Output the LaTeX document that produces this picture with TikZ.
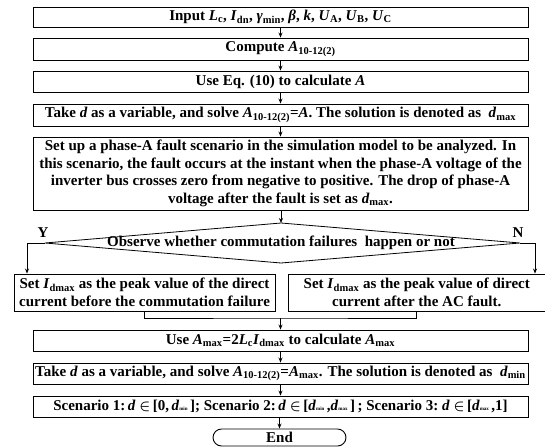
\documentclass[tikz,border=0pt]{standalone}
\usepackage{fontspec}
\setmainfont{Liberation Serif}
\usetikzlibrary{arrows.meta,shapes.misc}
\newcommand{\vi}[1]{\textit{#1}}
\newcommand{\sbs}[1]{\textsubscript{#1}}
\begin{document}
\begin{tikzpicture}[x=1pt,y=-1pt,
  font=\fontsize{15}{17.5}\selectfont\bfseries,
  box/.style={draw, line width=0.9pt, inner sep=0pt, align=center},
  arr/.style={-{Stealth[length=5pt,width=4pt]}, line width=0.8pt},
  ln/.style={line width=0.8pt}]
\useasboundingbox (0,0) rectangle (545,447);
\node[box, minimum width=495pt, minimum height=20pt] (b1) at (280.5,17)
  {Input \vi{L}\sbs{c}, \vi{I}\sbs{dn}, \vi{γ}\sbs{min}, \vi{β}, \vi{k}, \vi{U}\sbs{A}, \vi{U}\sbs{B}, \vi{U}\sbs{C}};
\node[box, minimum width=495pt, minimum height=22pt] (b2) at (280.5,49)
  {Compute \vi{A}\sbs{10-12(2)}};
\node[box, minimum width=495pt, minimum height=21pt] (b3) at (280.5,81.5)
  {Use Eq. (10) to calculate \vi{A}};
\node[box, minimum width=495pt, minimum height=22pt] (b4) at (280.5,115)
  {Take \vi{d} as a variable, and solve \vi{A}\sbs{10-12(2)}=\vi{A}. The solution is denoted as~~\vi{d}\sbs{max}};
\node[box, minimum width=495pt, minimum height=73pt] (b5) at (280.5,173.5)
  {Set up a phase-A fault scenario in the simulation model to be analyzed. In\\
   this scenario, the fault occurs at the instant when the phase-A voltage of the\\
   inverter bus crosses zero from negative to positive. The drop of phase-A\\
   voltage after the fault is set as \vi{d}\sbs{max}.};
% decision
\coordinate (dt) at (281,223);
\coordinate (dr) at (520,243);
\coordinate (db) at (281,263);
\coordinate (dl) at (45,243);
\draw[ln] (dt) -- (dr) -- (db) -- (dl) -- cycle;
\node[inner sep=0pt] (dec) at (281,243) {Observe whether commutation failures~~happen or not};
\node[inner sep=0pt] (ylab) at (43,233) {Y};
\node[inner sep=0pt] (nlab) at (518,233) {N};
\node[box, minimum width=261pt, minimum height=37pt] (lb) at (144.5,292.5)
  {Set \vi{I}\sbs{dmax} as the peak value of the direct\\current before the commutation failure};
\node[box, minimum width=257.5pt, minimum height=37pt] (rb) at (416.75,292.5)
  {Set \vi{I}\sbs{dmax} as the peak value of direct\\current after the AC fault.};
\node[box, minimum width=495pt, minimum height=21pt] (b6) at (280.5,340.5)
  {Use \vi{A}\sbs{max}=2\vi{L}\sbs{c}\vi{I}\sbs{dmax} to calculate \vi{A}\sbs{max}};
\node[box, minimum width=495pt, minimum height=21pt] (b7) at (280.5,373.5)
  {Take \vi{d} as a variable, and solve \vi{A}\sbs{10-12(2)}=\vi{A}\sbs{max}. The solution is denoted as~~\vi{d}\sbs{min}};
\node[box, minimum width=495pt, minimum height=21pt] (b8) at (280.5,406.5)
  {Scenario 1:\,\vi{d} {\boldmath$\in$}\,[0,\,\vi{d}{\tiny min}\,]; Scenario 2:\,\vi{d} {\boldmath$\in$}\,[\vi{d}{\tiny min}\,,\vi{d}{\tiny max}\,]\,; Scenario 3:~\vi{d} {\boldmath$\in$}\,[\vi{d}{\tiny max}\,,1]};
\node[box, rounded rectangle, minimum width=133pt, minimum height=17pt] (end) at (279.5,437.5) {End};
% connectors
\draw[arr] (b1) -- (b2);
\draw[arr] (b2) -- (b3);
\draw[arr] (b3) -- (b4);
\draw[arr] (b4) -- (b5);
\draw[arr] (b5.south -| dt) -- (dt);
\coordinate (yx) at (27,243);
\coordinate (nx) at (535,243);
\draw[arr] (dl) -- (yx) -- (yx |- lb.north);
\draw[arr] (dr) -- (nx) -- (nx |- rb.north);
\coordinate (mid) at (280.5,318);
\draw[ln] (lb.south) |- (mid) -| (rb.south);
\draw[arr] (mid) -- (b6.north -| mid);
\draw[arr] (b6) -- (b7);
\draw[arr] (b7) -- (b8);
\draw[arr] (b8.south -| end) -- (end);
\end{tikzpicture}
\end{document}
